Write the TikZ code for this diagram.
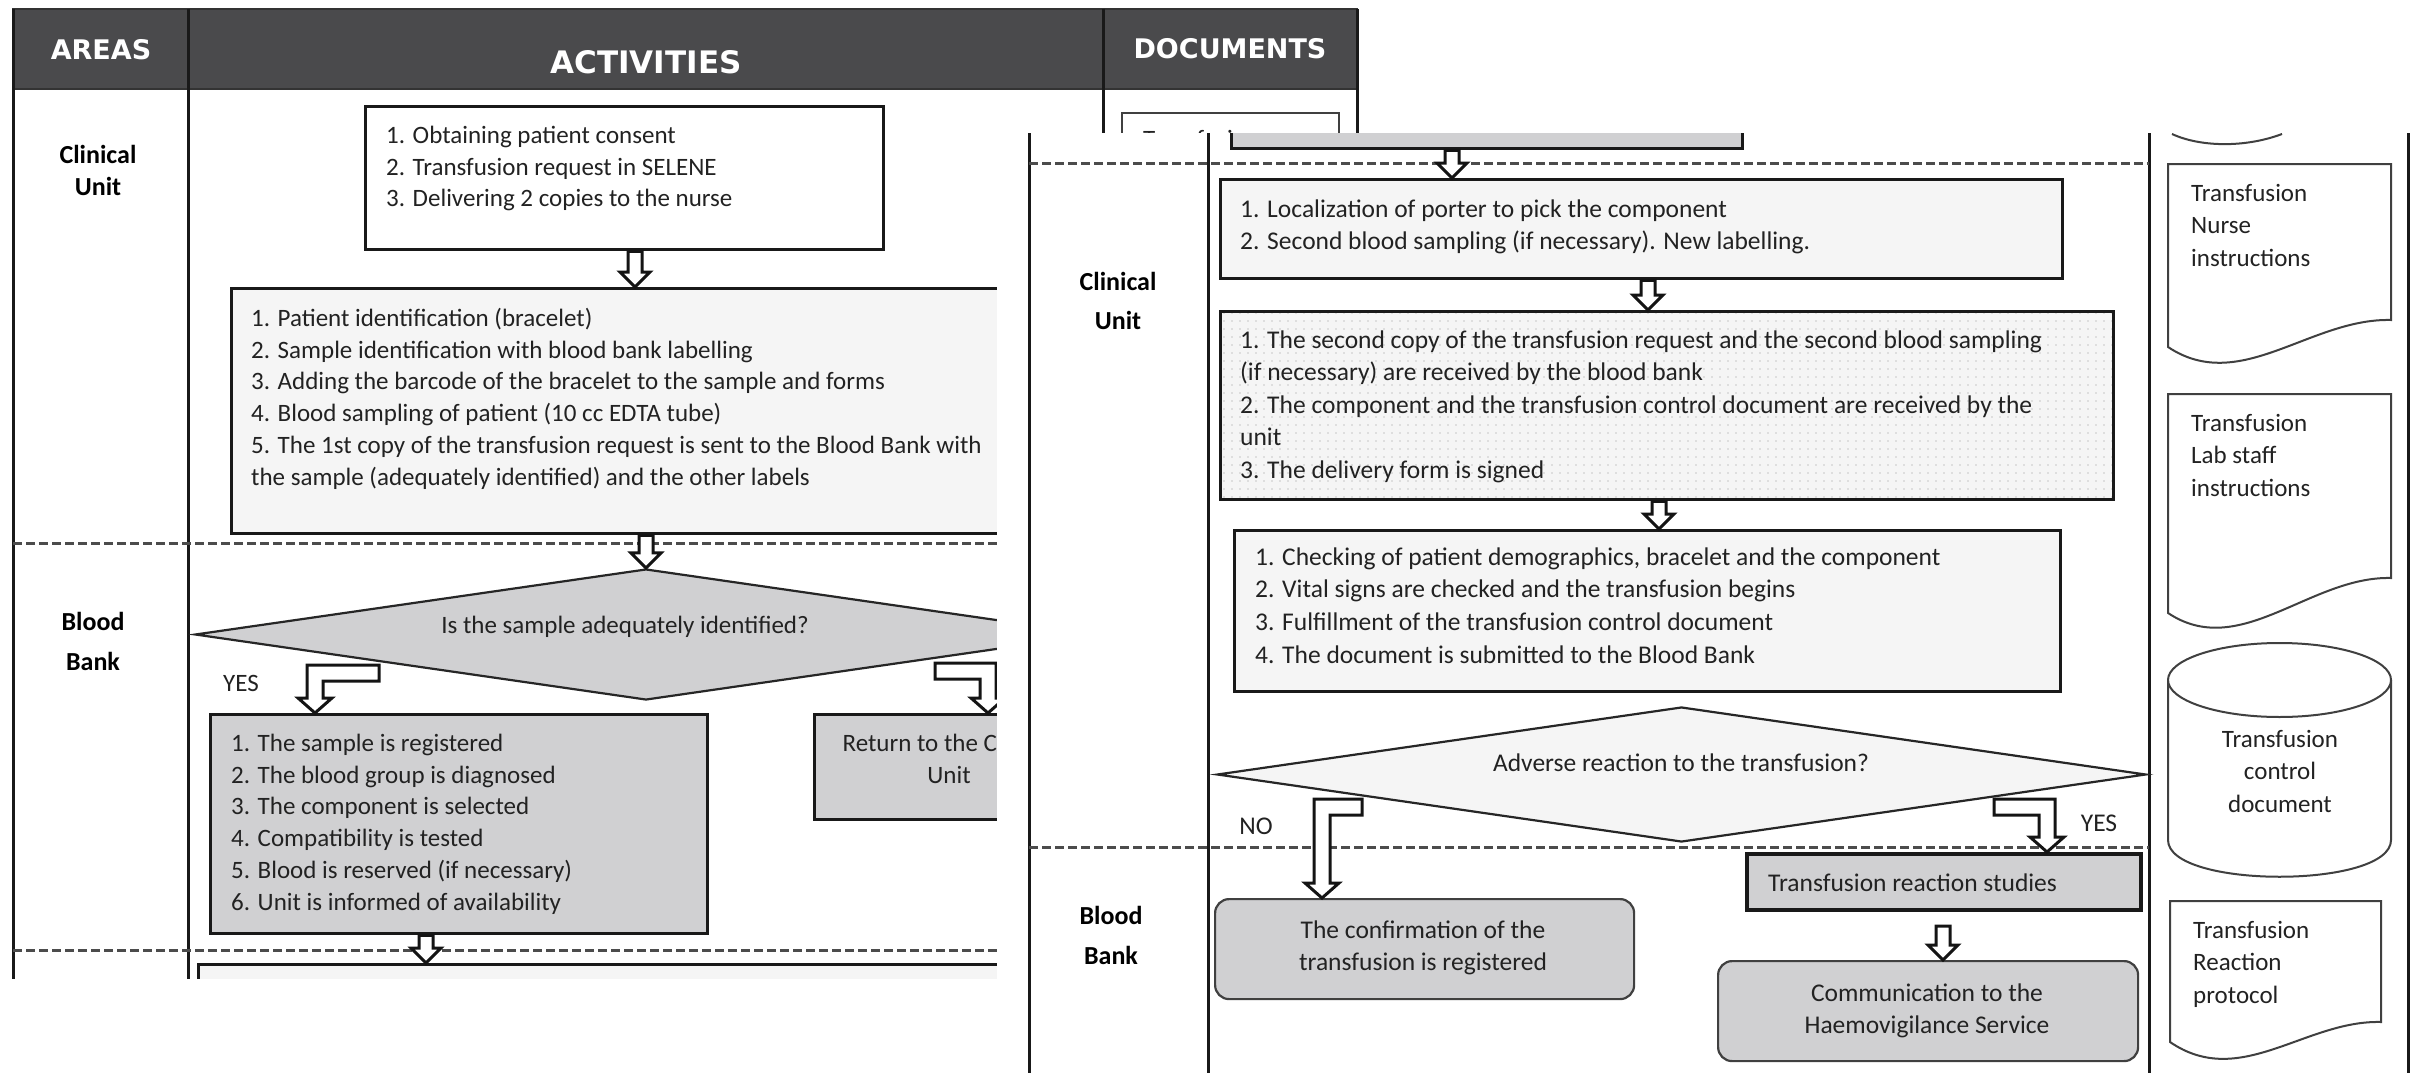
\documentclass[tikz,border=0pt]{standalone}
\usepackage{fontspec}
\setmainfont{Carlito}
\newfontfamily\headfont{DejaVu Sans}
\usetikzlibrary{calc,shapes.geometric,patterns.meta}

\definecolor{headgray}{HTML}{4A4A4C}
\definecolor{boxgray}{HTML}{D0D0D2}
\definecolor{lightfill}{HTML}{F5F5F5}
\definecolor{inkgray}{HTML}{222222}

\tikzset{
  lane/.style={draw=black!90, line width=3pt},
  sepline/.style={draw=black!70, line width=3pt, dash pattern=on 9pt off 4pt},
  stepbox/.style={draw=black!90, line width=3.4pt, anchor=north west, inner sep=0pt},
  roundbox/.style={draw=black!75, line width=2.2pt, rounded corners=14pt, anchor=north west, inner sep=0pt, fill=boxgray},
  decision/.style={diamond, draw=black!85, line width=2.2pt, inner sep=0pt},
  docshape/.style={draw=black!75, line width=2pt, fill=white},
  blockarrow/.style={draw=black!92, line width=3pt, fill=white, line join=miter},
  txt/.style={inner sep=0pt, align=left, text=inkgray, font=\fontsize{25}{31.8}\selectfont},
  ftxt/.style={inner sep=0pt, align=left, text=inkgray, font=\fontsize{25.5}{32.7}\selectfont},
  ctxt/.style={inner sep=0pt, align=center, text=inkgray, font=\fontsize{25.5}{32.5}\selectfont},
  doctxt/.style={inner sep=0pt, align=left, text=inkgray, font=\fontsize{25}{32.5}\selectfont},
  area/.style={inner sep=0pt, align=center, text=black, font=\fontsize{26}{32}\selectfont\bfseries},
  headtxt/.style={inner sep=0pt, text=white, font=\headfont\bfseries},
}

% hollow block arrow pointing down, from #1 to #2 (x taken from #1)
\newcommand\blockdown[2]{%
  \draw[blockarrow] let \p1=(#1), \p2=(#2) in
    (\x1-7pt,\y1) -- (\x1+7pt,\y1) -- (\x1+7pt,\y2+15pt) -- (\x1+15pt,\y2+15pt)
    -- (\x1,\y2) -- (\x1-15pt,\y2+15pt) -- (\x1-7pt,\y2+15pt) -- cycle;}
% elbow arrow: bar runs from #1 leftwards to a shaft that drops to #2
\newcommand\blockelbowL[2]{%
  \draw[blockarrow] let \p1=(#1), \p2=(#2) in
    (\x1,\y1+8pt) -- (\x2-8pt,\y1+8pt) -- (\x2-8pt,\y2+15pt) -- (\x2-17pt,\y2+15pt)
    -- (\x2,\y2) -- (\x2+17pt,\y2+15pt) -- (\x2+8pt,\y2+15pt) -- (\x2+8pt,\y1-8pt)
    -- (\x1,\y1-8pt) -- cycle;}
% elbow arrow: bar runs from #1 rightwards to a shaft that drops to #2
\newcommand\blockelbowR[2]{%
  \draw[blockarrow] let \p1=(#1), \p2=(#2) in
    (\x1,\y1+8pt) -- (\x2+8pt,\y1+8pt) -- (\x2+8pt,\y2+15pt) -- (\x2+17pt,\y2+15pt)
    -- (\x2,\y2) -- (\x2-17pt,\y2+15pt) -- (\x2-8pt,\y2+15pt) -- (\x2-8pt,\y1-8pt)
    -- (\x1,\y1-8pt) -- cycle;}

\begin{document}
\begin{tikzpicture}[x=1pt,y=-1pt]
\useasboundingbox (0,0) rectangle (2412,1073);
\fill[white] (0,0) rectangle (2412,1073);

%% ===== first sheet: consent, sampling and sample check =====
\begin{scope}
\clip (0,0) rectangle (1362,978);
% header band
\fill[headgray] (13,9) rectangle (1357,89);
\draw[black!80, line width=2.5pt] (13,9) rectangle (1357,89);
\node[headtxt, font=\headfont\bfseries\fontsize{27}{30}\selectfont] (hA) at (101,50) {AREAS};
\node[headtxt, font=\headfont\bfseries\fontsize{31}{34}\selectfont] (hB) at (646,62) {ACTIVITIES};
\node[headtxt, font=\headfont\bfseries\fontsize{27}{30}\selectfont] (hC) at (1230,49) {DOCUMENTS};
% lanes
\draw[lane] (13,9) -- (13,1000);
\draw[lane] (188,9) -- (188,1000);
\draw[lane] (1103,9) -- (1103,1000);
\draw[lane] (1357,9) -- (1357,1000);
\draw[sepline] (13,543) -- (1103,543);
\draw[sepline] (13,950) -- (1103,950);
% area labels
\node[area, anchor=north] (cu1) at (98,141) {\rule{0pt}{22pt}Clinical\\Unit};
\node[area, anchor=north] (bb1) at (93,608) {\rule{0pt}{22pt}Blood\\[8pt]Bank};
% document column
\draw[docshape] (1122,113) rectangle (1339,320);
\node[doctxt, anchor=base west] (dtop) at (1143,147) {Transfusion};

% activities
\node[stepbox, fill=white, minimum width=518pt, minimum height=143pt] (b1) at (364,105) {};
\node[txt, anchor=north west] (b1t) at (386,121) {\rule{0pt}{22pt}1. Obtaining patient consent\\2. Transfusion request in SELENE\\3. Delivering 2 copies to the nurse};

\node[stepbox, fill=lightfill, minimum width=860pt, minimum height=245pt] (b2) at (230,287) {};
\node[txt, anchor=north west] (b2t) at (251,304) {\rule{0pt}{22pt}1. Patient identification (bracelet)\\2. Sample identification with blood bank labelling\\3. Adding the barcode of the bracelet to the sample and forms\\4. Blood sampling of patient (10 cc EDTA tube)\\5. The 1st copy of the transfusion request is sent to the Blood Bank with\\the sample (adequately identified) and the other labels};

\node[decision, fill=boxgray, minimum width=902pt, minimum height=131pt] (d1) at (646,634.5) {};
\node[txt, anchor=base] (d1t) at (625,633) {Is the sample adequately identified?};
\node[txt, anchor=base] (yes1) at (241,691) {YES};

\node[stepbox, fill=boxgray, minimum width=497pt, minimum height=219pt] (b3) at (209,713) {};
\node[txt, anchor=north west] (b3t) at (231,729) {\rule{0pt}{22pt}1. The sample is registered\\2. The blood group is diagnosed\\3. The component is selected\\4. Compatibility is tested\\5. Blood is reserved (if necessary)\\6. Unit is informed of availability};

\node[stepbox, fill=boxgray, minimum width=272pt, minimum height=105pt] (ret) at (813,713) {};
\node[txt, align=center, anchor=north] (rett) at (949,729) {\rule{0pt}{22pt}Return to the Clinical\\Unit};

\node[stepbox, fill=lightfill, minimum width=900pt, minimum height=60pt] (b4) at (197,963) {};

% connectors
\blockdown{b1.south -| 635,0}{b2.north -| 635,0}
\blockdown{b2.south -| 646,0}{d1.north}
\coordinate (y1s) at (379,673);
\blockelbowL{y1s}{b3.north -| 315,0}
\coordinate (n1s) at (935,671);
\blockelbowR{n1s}{ret.north -| 988,0}
\blockdown{b3.south -| 426,0}{b4.north -| 426,0}
\end{scope}

%% ===== second sheet: delivery, transfusion and follow-up =====
\begin{scope}
\clip (997,133) rectangle (2412,1073);
\fill[white] (997,133) rectangle (2412,1073);
% lanes
\draw[lane] (1029,120) -- (1029,1080);
\draw[lane] (1208,120) -- (1208,1080);
\draw[lane] (2149,120) -- (2149,1080);
\draw[lane] (2408,120) -- (2408,1080);
\draw[sepline] (1029,163) -- (2149,163);
\draw[sepline] (1029,847) -- (2149,847);
% area labels
\node[area, anchor=north] (cu2) at (1118,268) {\rule{0pt}{22pt}Clinical\\[7pt]Unit};
\node[area, anchor=north] (bb2) at (1111,902) {\rule{0pt}{22pt}Blood\\[8pt]Bank};

% documents
\draw[docshape] (2172,134) .. controls (2200,147) and (2245,148) .. (2282,134);
\draw[docshape] (2168,164) -- (2391,164) -- (2391,320)
  .. controls (2310,318) and (2240,395) .. (2168,347) -- cycle;
\node[doctxt, anchor=north west] (doc1) at (2191,179) {\rule{0pt}{22pt}Transfusion\\Nurse\\instructions};
\draw[docshape] (2168,394) -- (2391,394) -- (2391,578)
  .. controls (2310,576) and (2240,661) .. (2168,613) -- cycle;
\node[doctxt, anchor=north west] (doc2) at (2191,409) {\rule{0pt}{22pt}Transfusion\\Lab staff\\instructions};
\draw[docshape] (2168,680) -- (2168,840) .. controls (2168,889) and (2391,889) .. (2391,840) -- (2391,680);
\draw[docshape] (2279.5,680) ellipse [x radius=111.5pt, y radius=37pt];
\node[doctxt, align=center, anchor=north] (doc3) at (2280,725) {\rule{0pt}{22pt}Transfusion\\control\\document};
\draw[docshape] (2170,901) -- (2381,901) -- (2381,1022)
  .. controls (2305,1020) and (2240,1090) .. (2170,1042) -- cycle;
\node[doctxt, anchor=north west] (doc4) at (2193,916) {\rule{0pt}{22pt}Transfusion\\Reaction\\protocol};

% activities
\node[stepbox, fill=boxgray, minimum width=511pt, minimum height=57pt] (g0) at (1230,90) {};
\node[stepbox, fill=lightfill, minimum width=842pt, minimum height=99pt] (bL) at (1219,178) {};
\node[ftxt, anchor=north west] (bLt) at (1240,195) {\rule{0pt}{22pt}1. Localization of porter to pick the component\\2. Second blood sampling (if necessary). New labelling.};

\node[stepbox, preaction={fill=lightfill}, pattern={Dots[distance=8pt, radius=0.9pt]}, pattern color=black!22, minimum width=893pt, minimum height=188pt] (bS) at (1219,310) {};
\node[ftxt, anchor=north west, font=\fontsize{25.5}{32.5}\selectfont] (bSt) at (1240,326) {\rule{0pt}{22pt}1. The second copy of the transfusion request and the second blood sampling\\(if necessary) are received by the blood bank\\2. The component and the transfusion control document are received by the\\unit\\3. The delivery form is signed};

\node[stepbox, fill=lightfill, minimum width=826pt, minimum height=161pt] (bC) at (1233,529) {};
\node[ftxt, anchor=north west] (bCt) at (1255,543) {\rule{0pt}{22pt}1. Checking of patient demographics, bracelet and the component\\2. Vital signs are checked and the transfusion begins\\3. Fulfillment of the transfusion control document\\4. The document is submitted to the Blood Bank};

\node[decision, fill=lightfill, minimum width=929pt, minimum height=135pt] (d2) at (1681.5,774.5) {};
\node[ftxt, anchor=base] (d2t) at (1681,771) {Adverse reaction to the transfusion?};
\node[ftxt, anchor=base] (no2) at (1256,834) {NO};
\node[ftxt, anchor=base] (yes2) at (2099,831) {YES};

\node[stepbox, line width=4pt, fill=boxgray, minimum width=394pt, minimum height=56pt] (trs) at (1745,852) {};
\node[ftxt, anchor=base west] (trst) at (1768,891) {Transfusion reaction studies};

\node[roundbox, minimum width=419pt, minimum height=100pt] (conf) at (1214,898) {};
\node[ctxt, anchor=north] (conft) at (1423,916) {\rule{0pt}{22pt}The confirmation of the\\transfusion is registered};

\node[roundbox, minimum width=420pt, minimum height=100pt] (comm) at (1717,960) {};
\node[ctxt, anchor=north] (commt) at (1927,979) {\rule{0pt}{22pt}Communication to the\\Haemovigilance Service};

% connectors
\blockdown{g0.south -| 1452,0}{bL.north -| 1452,0}
\blockdown{bL.south -| 1648,0}{bS.north -| 1648,0}
\blockdown{bS.south -| 1659,0}{bC.north -| 1659,0}
\coordinate (no2s) at (1362,807);
\blockelbowL{no2s}{conf.north -| 1322,0}
\coordinate (yes2s) at (1994,807);
\blockelbowR{yes2s}{trs.north -| 2047,0}
\blockdown{$(trs.south -| 1943,0)+(0,14)$}{comm.north -| 1943,0}
\end{scope}
\end{tikzpicture}
\end{document}
